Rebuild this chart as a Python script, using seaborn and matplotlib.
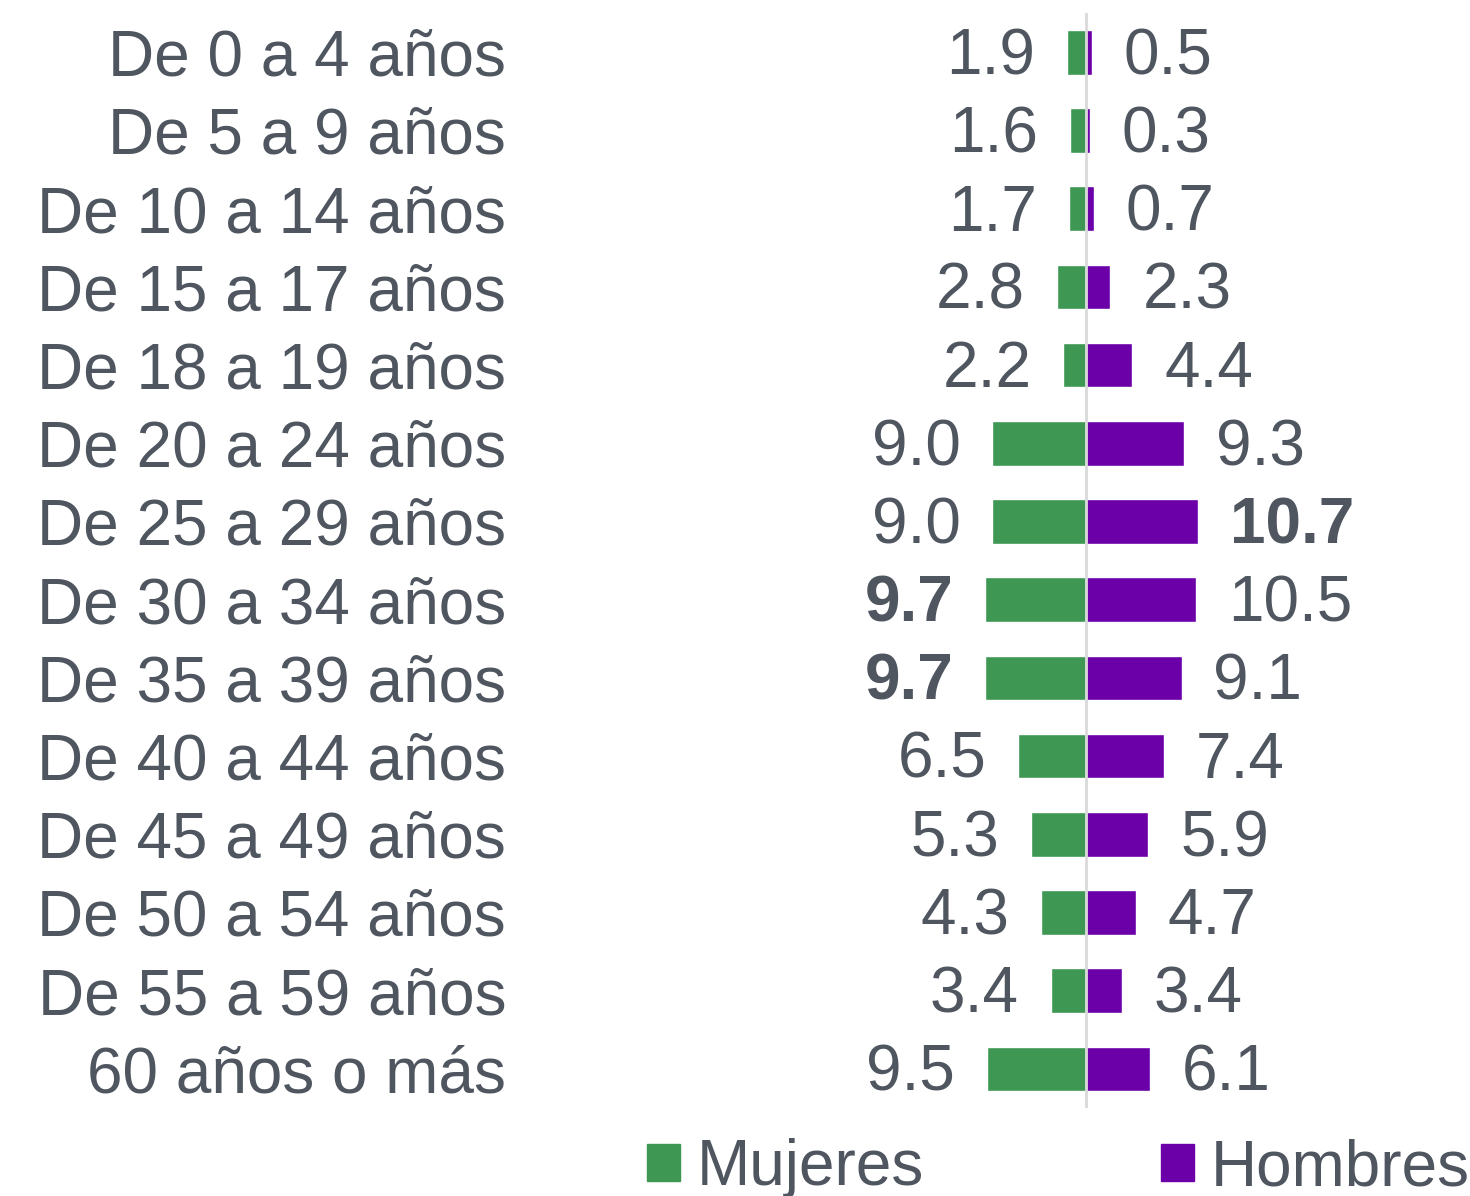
import matplotlib.pyplot as plt
import matplotlib.patches as mpatches
import pandas as pd
import seaborn as sns

sns.set_theme(style="white")
plt.rcParams["font.family"] = ["Liberation Sans", "DejaVu Sans"]

edades = [
    "De 0 a 4 años", "De 5 a 9 años", "De 10 a 14 años", "De 15 a 17 años",
    "De 18 a 19 años", "De 20 a 24 años", "De 25 a 29 años", "De 30 a 34 años",
    "De 35 a 39 años", "De 40 a 44 años", "De 45 a 49 años", "De 50 a 54 años",
    "De 55 a 59 años", "60 años o más",
]
mujeres = [1.9, 1.6, 1.7, 2.8, 2.2, 9.0, 9.0, 9.7, 9.7, 6.5, 5.3, 4.3, 3.4, 9.5]
hombres = [0.5, 0.3, 0.7, 2.3, 4.4, 9.3, 10.7, 10.5, 9.1, 7.4, 5.9, 4.7, 3.4, 6.1]

VERDE = "#3E9753"
MORADO = "#6C00A8"
TEXTO = "#4F5660"

df = pd.concat([
    pd.DataFrame({"edad": edades, "valor": [-v for v in mujeres], "sexo": "Mujeres"}),
    pd.DataFrame({"edad": edades, "valor": hombres, "sexo": "Hombres"}),
])

fig = plt.figure(figsize=(14.7, 11.96), dpi=100)
ax = fig.add_axes([0.3537, 0.0736, 0.6463, 0.9154])

sns.barplot(data=df, x="valor", y="edad", hue="sexo", order=edades,
            palette={"Mujeres": VERDE, "Hombres": MORADO}, saturation=1,
            dodge=False, width=0.57, orient="h", ax=ax, legend=False)

ax.axvline(0, color="#D9D9D9", lw=2, zorder=3)
ax.set_xlim(-54.2, 36.7)
ax.set_ylim(13.5, -0.5)
ax.set_xlabel("")
ax.set_ylabel("")
ax.set_xticks([])
sns.despine(ax=ax, left=True, bottom=True)
ax.tick_params(axis="y", length=0, pad=10, labelsize=46, labelcolor=TEXTO)

max_m = max(mujeres)
max_h = max(hombres)
for i, (m, h) in enumerate(zip(mujeres, hombres)):
    ax.annotate(f"{m:.1f}", (-m, i), xytext=(-23, -3.5), textcoords="offset points",
                ha="right", va="center", fontsize=46, color=TEXTO,
                fontweight="bold" if m == max_m else "normal")
    ax.annotate(f"{h:.1f}", (h, i), xytext=(23, -3.5), textcoords="offset points",
                ha="left", va="center", fontsize=46, color=TEXTO,
                fontweight="bold" if h == max_h else "normal")

handles = [mpatches.Patch(color=VERDE, label="Mujeres"),
           mpatches.Patch(color=MORADO, label="Hombres")]
fig.legend(handles=handles, loc="center", bbox_to_anchor=(0.72, 0.023), ncol=2,
           frameon=False, fontsize=46, labelcolor=TEXTO, handlelength=0.52,
           handleheight=0.52, handletextpad=0.26, columnspacing=3.7,
           borderaxespad=0, borderpad=0)

fig.savefig("out.png", dpi=100)
